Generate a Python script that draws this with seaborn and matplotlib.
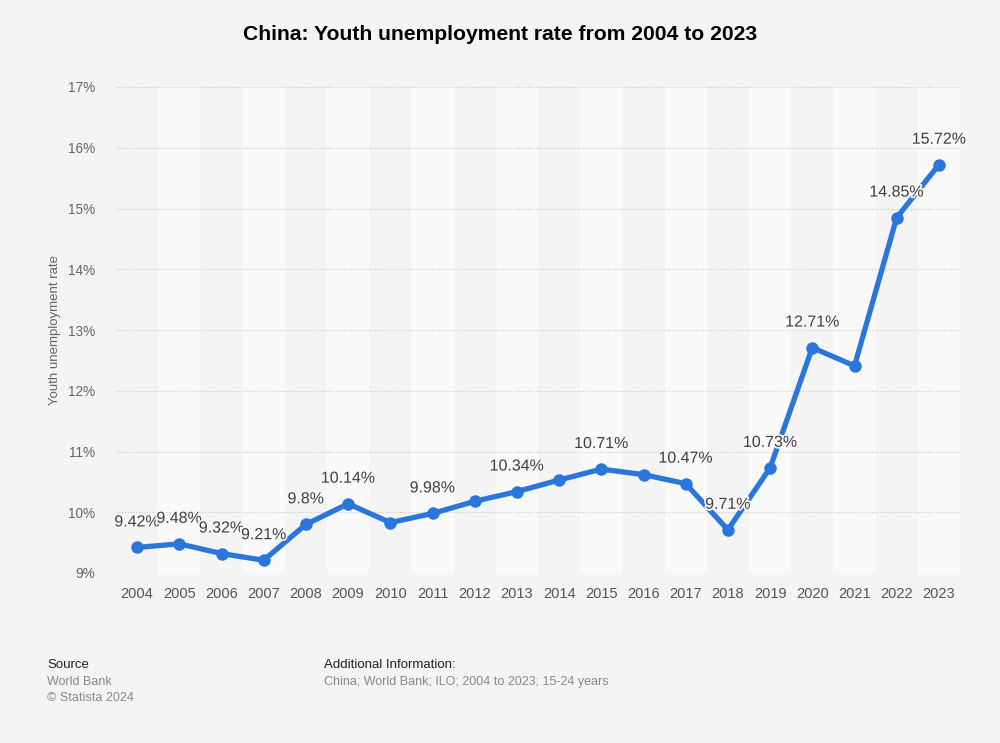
import numpy as np
import pandas as pd
import matplotlib
matplotlib.use('Agg')
import matplotlib.pyplot as plt
import matplotlib.patheffects as pe
import seaborn as sns

# data
years = [2004, 2005, 2006, 2007, 2008, 2009, 2010, 2011, 2012, 2013,
         2014, 2015, 2016, 2017, 2018, 2019, 2020, 2021, 2022, 2023]
rates = [9.42, 9.48, 9.32, 9.21, 9.8, 10.14, 9.83, 9.98, 10.18, 10.34,
         10.53, 10.71, 10.62, 10.47, 9.71, 10.73, 12.71, 12.41, 14.85, 15.72]
labelled = [2004, 2005, 2006, 2007, 2008, 2009, 2011, 2013, 2015, 2017,
            2018, 2019, 2020, 2022, 2023]
yticks = [9, 10, 11, 12, 13, 14, 15, 16, 17]

df = pd.DataFrame({'pos': range(len(years)), 'year': years, 'rate': rates})

sns.set_style('white')
plt.rcParams['font.family'] = ['Liberation Sans', 'DejaVu Sans']

bg = '#f4f4f4'
fig = plt.figure(figsize=(10, 7.43), dpi=100, facecolor=bg)
ax = fig.add_axes([0.116, 1 - 573 / 743, 0.844, (573 - 87) / 743])
ax.set_facecolor(bg)

# alternating column bands
for i in range(len(years)):
    if i % 2 == 1:
        ax.axvspan(i - 0.5, i + 0.5, color='#fafafa', zorder=0, lw=0)

for t in yticks:
    ax.axhline(t, color='#c8c8c8', lw=0.8, ls=(0, (1, 1.5)), zorder=1)

sns.lineplot(data=df, x='pos', y='rate', ax=ax, color='#2a76dd', lw=3.8,
             marker='o', markersize=9, markeredgewidth=0, zorder=3)

for p, yr, r in zip(df['pos'], df['year'], df['rate']):
    if yr in labelled:
        lab = f'{r:g}%'
        ax.annotate(lab, (p, r), xytext=(0, 13), textcoords='offset points',
                    ha='center', va='bottom', fontsize=11.5, color='#404040',
                    path_effects=[pe.withStroke(linewidth=2.5, foreground='#f8f8f8')],
                    zorder=4)

ax.set_xlim(-0.5, len(years) - 0.5)
ax.set_ylim(9, 17)
ax.set_xticks(range(len(years)))
ax.set_xticklabels([str(y) for y in years])
ax.set_yticks(yticks)
ax.set_yticklabels([f'{t}%' for t in yticks])
ax.tick_params(axis='x', colors='#555555', labelsize=10.5, length=0, pad=10)
ax.tick_params(axis='y', colors='#666666', labelsize=9.8, length=0, pad=15)
for s in ax.spines.values():
    s.set_visible(False)
ax.set_xlabel('')
ax.set_ylabel('Youth unemployment rate', color='#666666', fontsize=9.5)
ax.yaxis.set_label_coords(-(116 - 61) / 844, 0.5)

fig.text(0.5, 1 - 35 / 743, 'China: Youth unemployment rate from 2004 to 2023',
         ha='center', va='center', fontsize=15.2, fontweight='bold', color='#000000')

fig.text(0.047, 1 - 665 / 743, 'Source', fontsize=9.5, color='#222222', va='center')
fig.text(0.047, 1 - 682 / 743, 'World Bank', fontsize=9, color='#888888', va='center')
fig.text(0.047, 1 - 698 / 743, '\u00a9 Statista 2024', fontsize=9, color='#888888', va='center')
fig.text(0.324, 1 - 665 / 743, 'Additional Information:', fontsize=9.5, color='#222222', va='center')
fig.text(0.324, 1 - 682 / 743, 'China; World Bank; ILO; 2004 to 2023; 15-24 years',
         fontsize=9, color='#888888', va='center')

fig.savefig('out.png', dpi=100, facecolor=bg)
